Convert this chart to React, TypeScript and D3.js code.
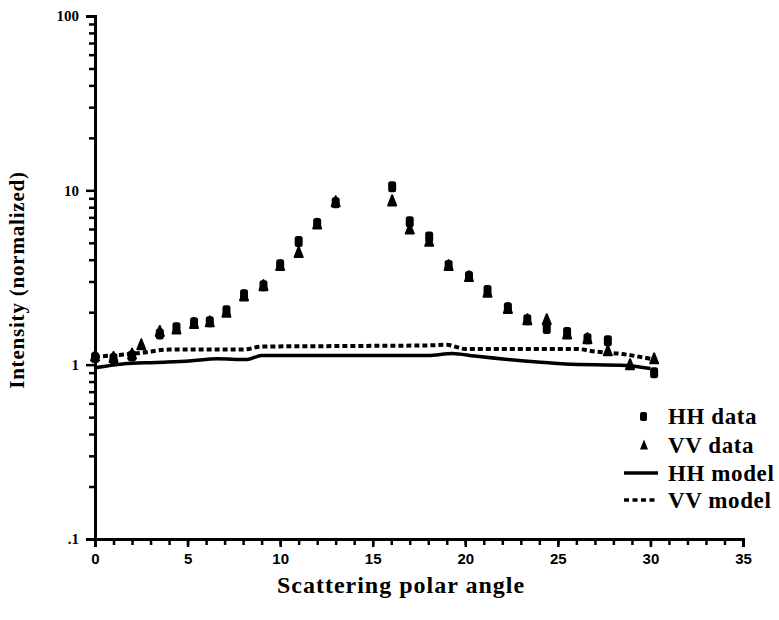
import React, { useEffect, useRef } from 'react';
import * as d3 from 'd3';

// scattering polar angle (deg) and normalized intensity
const hhAngles = [0, 1, 2, 3.5, 4.4, 5.35, 6.2, 7.1, 8.05, 9.1, 10.0, 11.0, 12.0, 13.0, 16.05, 17.0, 18.05, 19.1, 20.2, 21.2, 22.3, 23.35, 24.4, 25.5, 26.6, 27.7, 30.2];
const hhValues = [1.1, 1.08, 1.12, 1.5, 1.63, 1.74, 1.76, 2.04, 2.52, 2.84, 3.74, 5.08, 6.45, 8.5, 10.5, 6.6, 5.4, 3.7, 3.2, 2.66, 2.12, 1.81, 1.61, 1.53, 1.41, 1.37, 0.9];
const vvAngles = [0, 1, 2, 2.5, 3.5, 4.4, 5.35, 6.2, 7.1, 8.05, 9.1, 10.0, 11.0, 12.0, 13.0, 16.05, 17.0, 18.05, 19.1, 20.2, 21.2, 22.3, 23.35, 24.4, 25.5, 26.6, 27.7, 28.9, 30.2];
const vvValues = [1.12, 1.1, 1.15, 1.3, 1.55, 1.6, 1.72, 1.76, 2.0, 2.48, 2.84, 3.7, 4.4, 6.4, 8.6, 8.7, 6.0, 5.1, 3.7, 3.2, 2.6, 2.1, 1.81, 1.81, 1.5, 1.41, 1.2, 1.0, 1.08];

const hhModelAngles = [0, 1.5, 3.3, 5.1, 6.6, 8.2, 9.0, 12, 15, 18, 19.3, 20.5, 23.2, 25.4, 28.7, 30];
const hhModelValues = [0.96, 1.01, 1.03, 1.05, 1.08, 1.07, 1.13, 1.13, 1.13, 1.13, 1.16, 1.12, 1.05, 1.01, 0.99, 0.95];
const vvModelAngles = [0, 1, 2.5, 4, 8, 9, 14, 18, 19, 20, 26, 27, 28.5, 30.2];
const vvModelValues = [1.11, 1.13, 1.17, 1.22, 1.22, 1.27, 1.28, 1.29, 1.3, 1.23, 1.23, 1.19, 1.15, 1.07];

const xMajorTicks = [0, 5, 10, 15, 20, 25, 30, 35];
const yMajorTicks = [0.1, 1, 10, 100];
const yTickLabels = ['.1', '1', '10', '100'];

const legendLabels = ['HH data', 'VV data', 'HH model', 'VV model'];

const width = 779;
const height = 620;
const x = d3.scaleLinear().domain([0, 35]).range([95, 743]);
const y = d3.scaleLog().domain([0.1, 100]).range([539, 16]);

const serif = '"Liberation Serif", "DejaVu Serif", serif';
const sans = '"Liberation Sans", Arial, sans-serif';

const trianglePath = 'M0,-5.5 L4,4.5 L-4,4.5 Z';

const App = () => {
    const xAxisRef = useRef(null);
    const yAxisRef = useRef(null);

    useEffect(() => {
        const gx = d3.select(xAxisRef.current);
        gx.selectAll('*').remove();
        const minorX = d3.range(0, 36, 1);
        gx.append('g').call(d3.axisBottom(x).tickValues(minorX).tickSize(6).tickFormat(() => ''));
        gx.append('g').call(d3.axisBottom(x).tickValues(xMajorTicks).tickSize(8).tickPadding(6).tickFormat(d3.format('d')));
        gx.selectAll('.domain').attr('stroke-width', 3).attr('stroke', '#000');
        gx.selectAll('line').attr('stroke-width', 2.5).attr('stroke', '#000');
        gx.selectAll('text')
            .attr('font-family', sans)
            .attr('font-weight', 'bold')
            .attr('font-size', 15)
            .attr('fill', '#000');

        const gy = d3.select(yAxisRef.current);
        gy.selectAll('*').remove();
        const minorY: number[] = [];
        [0.1, 1, 10].forEach(d => { for (let k = 2; k <= 9; k++) minorY.push(d * k); });
        gy.append('g').call(d3.axisLeft(y).tickValues(minorY).tickSize(6).tickFormat(() => ''));
        gy.append('g').call(d3.axisLeft(y).tickValues(yMajorTicks).tickSize(9).tickPadding(7)
            .tickFormat((d, i) => yTickLabels[i]));
        gy.selectAll('.domain').attr('stroke-width', 3).attr('stroke', '#000');
        gy.selectAll('line').attr('stroke-width', 2.5).attr('stroke', '#000');
        gy.selectAll('text')
            .attr('font-family', serif)
            .attr('font-weight', 'bold')
            .attr('font-size', 15)
            .attr('fill', '#000');
    }, []);

    const hhLine = d3.line<number>().x((d, i) => x(hhModelAngles[i])).y(d => y(d)).curve(d3.curveMonotoneX);
    const vvLine = d3.line<number>().x((d, i) => x(vvModelAngles[i])).y(d => y(d)).curve(d3.curveMonotoneX);

    const legendX = 624;
    const legendY = [418, 447, 475, 502];

    return (
        <svg width={width} height={height} style={{ position: 'absolute', left: 0, top: 0, background: '#fff' }}>
            <g ref={xAxisRef} transform={`translate(0,${y(0.1)})`} />
            <g ref={yAxisRef} transform={`translate(${x(0)},0)`} />

            <path d={hhLine(hhModelValues) || ''} fill="none" stroke="#000" strokeWidth={3.5} />
            <path d={vvLine(vvModelValues) || ''} fill="none" stroke="#000" strokeWidth={4} strokeDasharray="5,3" />

            {hhAngles.map((a, i) => (
                <rect key={'hh' + i} x={x(a) - 4} y={y(hhValues[i]) - 5.5} width={8} height={11} rx={2.5} fill="#000" />
            ))}
            {vvAngles.map((a, i) => (
                <path key={'vv' + i} d={trianglePath} transform={`translate(${x(a)},${y(vvValues[i])})`} fill="#000" stroke="#000" strokeWidth={2} strokeLinejoin="round" />
            ))}

            <text transform={`translate(24,280) rotate(-90)`} textAnchor="middle"
                fontFamily={serif} fontWeight="bold" fontSize={21} letterSpacing={0.8}>Intensity  (normalized)</text>
            <text x={401} y={593} textAnchor="middle" fontFamily={serif} fontWeight="bold" fontSize={24} letterSpacing={1}>Scattering polar angle</text>

            <g fontFamily={serif} fontWeight="bold" fontSize={23} letterSpacing={0.6}>
                <rect x={legendX + 16} y={legendY[0] - 6} width={7} height={9} rx={2} fill="#000" />
                <path d={trianglePath} transform={`translate(${legendX + 20},${legendY[1] - 2})`} fill="#000" />
                <line x1={legendX} x2={legendX + 34} y1={legendY[2] - 2} y2={legendY[2] - 2} stroke="#000" strokeWidth={3.5} />
                <line x1={legendX} x2={legendX + 34} y1={legendY[3] - 2} y2={legendY[3] - 2} stroke="#000" strokeWidth={3.5} strokeDasharray="5,3.5" />
                {legendLabels.map((t, i) => (
                    <text key={t} x={legendX + 44} y={legendY[i] + 6}>{t}</text>
                ))}
            </g>
        </svg>
    );
};

export default App;
